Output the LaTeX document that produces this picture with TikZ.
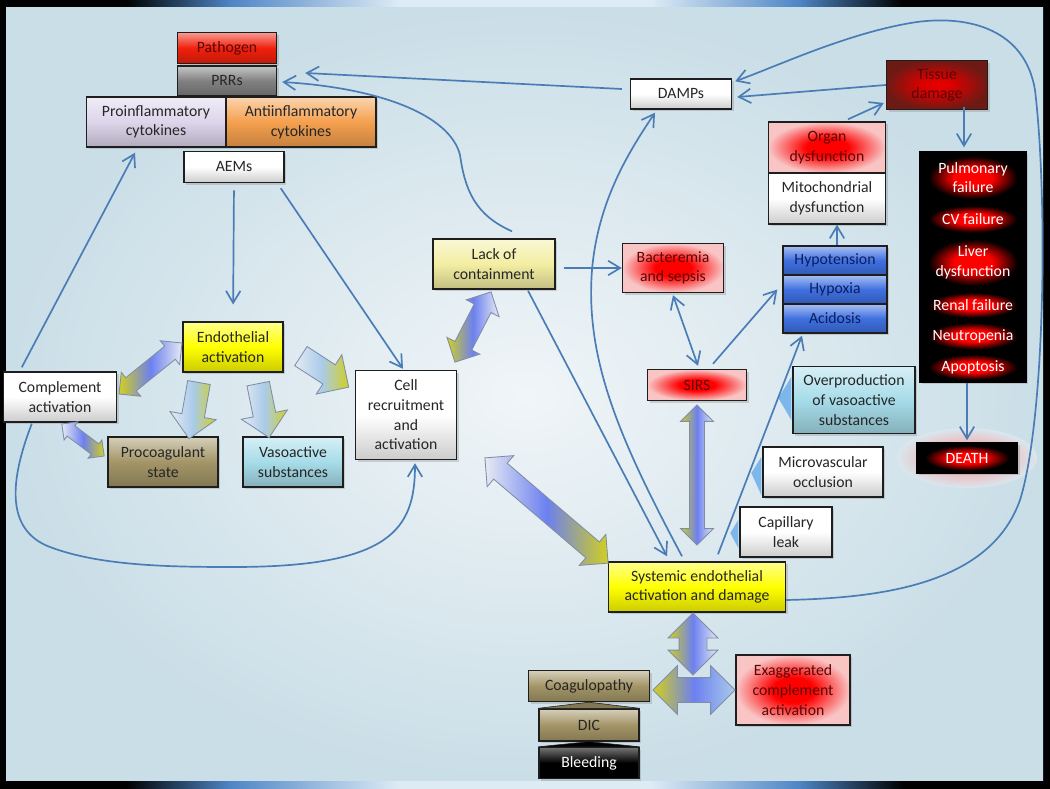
\documentclass[tikz,border=0pt]{standalone}
\usepackage{fontspec}
\setmainfont{Carlito}
\usepackage{tikz}
\usetikzlibrary{arrows.meta,shapes.arrows,shadows}
\definecolor{sepline}{HTML}{4A7DB5}
\definecolor{sepbox}{HTML}{1E1E1E}
\definecolor{sepred}{HTML}{F0200C}
\definecolor{sepgray}{HTML}{808080}
\definecolor{seplav}{HTML}{DDD5EB}
\definecolor{seporange}{HTML}{F5A04E}
\definecolor{sepyellow}{HTML}{FFFF00}
\definecolor{sepkhaki}{HTML}{A39567}
\definecolor{sepsky}{HTML}{A6DCE9}
\definecolor{seppale}{HTML}{F3EEA2}
\definecolor{seppink}{HTML}{F8C4C4}
\definecolor{sepmaroon}{HTML}{6E1A14}
\definecolor{sepblue}{HTML}{3F70E0}
\definecolor{sepnavy}{HTML}{0B1E5E}
\definecolor{sepdark}{HTML}{5A0505}
\definecolor{arrsilver}{HTML}{E6EAF2}
\definecolor{arrblue}{HTML}{6C80F0}
\definecolor{arryellow}{HTML}{D2CF1E}
\definecolor{arrlight}{HTML}{A9CBEA}
\definecolor{arredge}{HTML}{7F8DA6}
\definecolor{wedgeblue}{HTML}{7DB6EA}
\definecolor{bginner}{HTML}{F0F5F8}
\definecolor{bgouter}{HTML}{CADEE7}
\definecolor{barblue}{HTML}{4F86C6}
\definecolor{barlight}{HTML}{DDEBF5}
\pgfdeclarehorizontalshading{framebar}{100bp}{color(0bp)=(black); color(31bp)=(black); color(36bp)=(barblue); color(44bp)=(barlight); color(56bp)=(barlight); color(63bp)=(barblue); color(68bp)=(black); color(100bp)=(black)}
\pgfdeclareradialshading{redspot}{\pgfpointorigin}{color(0bp)=(red); color(9bp)=(red); color(25bp)=(seppink); color(50bp)=(seppink)}
\pgfdeclareradialshading{failspot}{\pgfpointorigin}{color(0bp)=(red); color(9bp)=(red); color(21bp)=(black); color(50bp)=(black)}
\pgfdeclareradialshading{tissuespot}{\pgfpointorigin}{color(0bp)=(red!90!black); color(8bp)=(red!85!black); color(25bp)=(sepmaroon); color(50bp)=(sepmaroon)}
\tikzset{
  box/.style={draw=sepbox,line width=1pt,align=center,inner sep=1pt,text=black!85,
    drop shadow={opacity=0.3,shadow xshift=0.6mm,shadow yshift=-0.6mm}},
  wh/.style 2 args={minimum width=#1*0.025cm,minimum height=#2*0.025cm},
  cbox/.style={box,top color=#1!45!white,bottom color=#1!80!black,middle color=#1},
  wbox/.style={box,top color=white,bottom color=black!20,middle color=white},
  rbox/.style={box,shade,shading=redspot,text=sepdark},
  failbox/.style={box,draw=black,shade,shading=failspot,text=white},
  ar/.style={draw=sepline,line width=1.2pt,-{Straight Barb[length=3mm,width=3.6mm]}},
  dar/.style={ar,{Straight Barb[length=3mm,width=3.6mm]}-{Straight Barb[length=3mm,width=3.6mm]}},
  barr/.style={double arrow,draw=arredge,line width=0.6pt,inner xsep=0pt,double arrow tip angle=90},
  sarr/.style={single arrow,draw=arredge,line width=0.6pt,inner xsep=0pt,single arrow tip angle=90},
  ysil/.style={left color=arryellow,right color=arrsilver,middle color=arrblue},
  silny/.style={left color=arrsilver,right color=arryellow,middle color=arrblue},
  silly/.style={left color=arrsilver,right color=arryellow,middle color=arrlight},
  wedge/.style={fill=wedgeblue},
}
\begin{document}
\begin{tikzpicture}[x=0.025cm,y=-0.025cm,font=\fontsize{11.2}{14}\selectfont]
  % frame and background
  \fill[black] (0,0) rectangle (1050,788);
  \shade[inner color=bginner,outer color=bgouter] (6,8) rectangle (1043,781);
  \shade[shading=framebar] (0,0) rectangle (1050,7);
  \shade[shading=framebar] (0,781) rectangle (1050,788);
  \shade[inner color=red!45!white,outer color=bgouter!60!bginner] (967,458) ellipse [x radius=70,y radius=30];
  \fill[black] (919,152) rectangle (1026,382);

  % boxes
  \node[cbox=sepred,text=sepdark,wh={99}{31}] (pathogen) at (227,48) {Pathogen};
  \node[cbox=sepgray,wh={99}{30}] (prrs) at (227,81) {PRRs};
  \node[cbox=seplav,wh={139}{50}] (proinfl) at (156,122) {Proinflammatory\\cytokines};
  \node[cbox=seporange,wh={150}{50}] (antiinfl) at (301,122) {Antiinflammatory\\cytokines};
  \node[wbox,wh={100}{31}] (aems) at (234,167) {AEMs};
  \node[cbox=sepyellow,wh={100}{50}] (endoact) at (233,347) {Endothelial\\activation};
  \node[wbox,wh={113}{50}] (complement) at (60,397) {Complement\\activation};
  \node[cbox=sepkhaki,wh={110}{50}] (procoag) at (163,462) {Procoagulant\\state};
  \node[cbox=sepsky,wh={100}{50}] (vasoact) at (293,462) {Vasoactive\\substances};
  \node[wbox,wh={101}{89}] (cellrec) at (406,415) {Cell\\recruitment\\and\\activation};
  \node[cbox=seppale,wh={122}{50}] (lack) at (494,264) {Lack of\\containment};
  \node[rbox,wh={101}{49}] (bact) at (673,268) {Bacteremia\\and sepsis};
  \node[rbox,wh={99}{31}] (sirs) at (697,385) {SIRS};
  \node[wbox,wh={101}{30}] (damps) at (681,94) {DAMPs};
  \node[box,shade,shading=tissuespot,text=sepdark,wh={101}{49}] (tissue) at (937,85) {Tissue\\damage};
  \node[rbox,wh={117}{51}] (organ) at (827,147.5) {Organ\\dysfunction};
  \node[wbox,wh={117}{51}] (mito) at (827,198.5) {Mitochondrial\\dysfunction};
  \node[failbox,wh={106}{51}] (pulm) at (973,177.5) {Pulmonary\\failure};
  \node[failbox,wh={106}{32}] (cvfail) at (973,219) {CV failure};
  \node[failbox,wh={106}{55}] (liver) at (973,262.5) {Liver\\dysfunction};
  \node[failbox,wh={106}{30}] (renal) at (973,305) {Renal failure};
  \node[failbox,wh={106}{32}] (neutro) at (973,336) {Neutropenia};
  \node[failbox,wh={106}{30}] (apop) at (973,367) {Apoptosis};
  \node[cbox=sepblue,text=sepnavy,wh={104}{29}] (hypot) at (835,260.5) {Hypotension};
  \node[cbox=sepblue,text=sepnavy,wh={104}{29}] (hypox) at (835,289.5) {Hypoxia};
  \node[cbox=sepblue,text=sepnavy,wh={104}{29}] (acid) at (835,318.5) {Acidosis};
  \node[cbox=sepsky,wh={122}{67}] (overprod) at (854,400) {Overproduction\\of vasoactive\\substances};
  \node[wbox,wh={120}{50}] (microv) at (823,472) {Microvascular\\occlusion};
  \node[failbox,wh={101}{30}] (death) at (967,458) {DEATH};
  \node[wbox,wh={92}{50}] (capleak) at (786,532) {Capillary\\leak};
  \node[cbox=sepyellow,wh={177}{50}] (systemic) at (697,587) {Systemic endothelial\\activation and damage};
  \node[rbox,wh={114}{70}] (exagg) at (793,690) {Exaggerated\\complement\\activation};
  \node[cbox=sepkhaki,wh={121}{31}] (coag) at (589,686) {Coagulopathy};
  \node[cbox=sepkhaki,wh={100}{32}] (dic) at (589,725) {DIC};
  \node[box,top color=black!55,bottom color=black,middle color=black,text=white,wh={100}{31}] (bleed) at (589,763) {Bleeding};

  % wedges and joins
  \fill[wedge] ([shift={(-1,-23)}]overprod.west) -- ([shift={(-14,-2)}]overprod.west) -- ([shift={(-1,20)}]overprod.west) -- cycle;
  \fill[wedge] ([shift={(-1,-15)}]microv.west) -- ([shift={(-11,1)}]microv.west) -- ([shift={(-1,23)}]microv.west) -- cycle;
  \fill[wedge] ([shift={(-1,-12)}]capleak.west) -- ([shift={(-9,1)}]capleak.west) -- ([shift={(-1,16)}]capleak.west) -- cycle;
  \filldraw[fill=sepkhaki!80!black,draw=sepbox] (dic.north west) -- (coag.south) -- (dic.north east) -- cycle;
  \filldraw[fill=black,draw=sepbox] (bleed.north west) -- (dic.south) -- (bleed.north east) -- cycle;

  % block arrows
  \node[barr,ysil,minimum height=2.025cm,inner ysep=0.2cm,double arrow head extend=0.175cm,rotate=39] (endocomp) at (150.5,368.5) {};
  \node[barr,silny,minimum height=1.325cm,inner ysep=0.15cm,double arrow head extend=0.125cm,rotate=-37] (compcoag) at (83,440) {};
  \node[sarr,silly,minimum height=1.425cm,inner ysep=0.275cm,single arrow head extend=0.3cm,rotate=-100] (endocoag) at (195,405) {};
  \node[sarr,silly,minimum height=1.375cm,inner ysep=0.275cm,single arrow head extend=0.3cm,rotate=-78.5] (endovaso) at (262.5,405) {};
  \node[sarr,silly,minimum height=1.425cm,inner ysep=0.275cm,single arrow head extend=0.3cm,rotate=-33] (endocell) at (320,368.5) {};
  \node[barr,ysil,minimum height=1.975cm,inner ysep=0.225cm,double arrow head extend=0.225cm,rotate=62.8] (lackcell) at (473,327) {};
  \node[barr,silny,minimum height=4.05cm,inner ysep=0.25cm,double arrow head extend=0.25cm,rotate=-40.5] (cellsys) at (546.5,510.5) {};
  \node[barr,ysil,minimum height=3.5cm,inner ysep=0.175cm,double arrow head extend=0.225cm,rotate=90] (sirssys) at (697,475) {};
  \node[barr,left color=arryellow,right color=arrlight,middle color=arrblue,minimum height=2.05cm,inner ysep=0.3cm,double arrow head extend=0.3cm] (coagexag) at (694,690) {};
  \node[barr,ysil,minimum height=1.55cm,inner ysep=0.3375cm,double arrow head extend=0.275cm,rotate=90] (sysdown) at (693,644) {};

  % connectors
  \draw[ar,shorten <=0.18cm,shorten >=0.42cm] (aems.south) -- (endoact.north);
  \draw[ar] ([shift={(-4,5)}]aems.south east) -- ([shift={(-3,-1)}]cellrec.north);
  \draw[ar] ([shift={(19,-4)}]complement.north west) -- ([shift={(-21,5)}]proinfl.south);
  \draw[ar] ([shift={(29,1)}]complement.south west) .. controls (10,480) and (5,530) .. (50,547)
    .. controls (100,566) and (170,567) .. (233,567) .. controls (390,567) and (415,530) .. ([shift={(9,3)}]cellrec.south);
  \draw[ar] ([shift={(-8,-5)}]damps.west) -- ([shift={(28,-8)}]prrs.east);
  \draw[ar] ([shift={(18,-7)}]lack.north) .. controls (475,215) and (465,190) .. (460,155)
    .. controls (450,115) and (380,88) .. ([shift={(5,1)}]prrs.east);
  \draw[ar] ([shift={(-15,-5)}]systemic.north) .. controls (620,440) and (585,360) .. (592,270)
    .. controls (598,200) and (630,150) .. ([shift={(-26,3)}]damps.south);
  \draw[ar] ([shift={(34,1)}]lack.south) -- ([shift={(-30,-5)}]systemic.north);
  \draw[ar] ([shift={(8,4)}]lack.east) -- (bact.west);
  \draw[dar] ([shift={(0,2)}]bact.south) -- ([shift={(1,-3)}]sirs.north);
  \draw[ar] ([shift={(16,-5)}]sirs.north) -- ([shift={(-5,0)}]hypox.west);
  \draw[ar] ([shift={(21,-7)}]systemic.north) -- ([shift={(-33,2)}]acid.south);
  \draw[ar] ([shift={(2,0)}]hypot.north) -- ([shift={(10,0)}]mito.south);
  \draw[ar] ([shift={(21,-2)}]organ.north) -- ([shift={(-2,18)}]tissue.west);
  \draw[ar] (tissue.west) -- ([shift={(5,3)}]damps.east);
  \draw[ar] ([shift={(27,-3)}]tissue.south) -- ([shift={(-9,-4)}]pulm.north);
  \draw[ar] ([shift={(-6,0)}]apop.south) -- ([shift={(0,-2)}]death.north);
  \draw[ar] ([shift={(0,13)}]systemic.east) .. controls (880,598) and (990,585) .. (1020,500)
    .. controls (1045,420) and (1048,200) .. (1035,90) .. controls (1025,30) and (970,15) .. (917,22)
    .. controls (850,32) and (780,65) .. ([shift={(3,3)}]damps.north east);
\end{tikzpicture}
\end{document}
